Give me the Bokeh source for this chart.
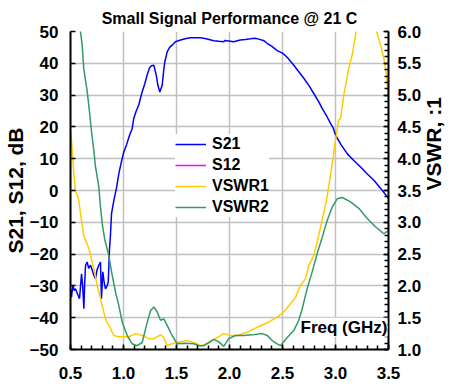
import math
from bokeh.plotting import figure
from bokeh.models import (Range1d, LinearAxis, SingleIntervalTicker, NumeralTickFormatter,
                          Label, Legend, LegendItem, Grid)
from bokeh.embed import file_html
from bokeh.resources import INLINE

# ---------------- data ----------------
freq_s21 = [0.50, 0.509, 0.522, 0.535, 0.547, 0.56, 0.572, 0.585, 0.595, 0.604, 0.615, 0.626,
            0.634, 0.642, 0.657, 0.672, 0.689, 0.705, 0.72, 0.736, 0.75, 0.767, 0.783, 0.792,
            0.805, 0.818, 0.83, 0.845, 0.856, 0.868, 0.877, 0.887, 0.909, 0.935, 0.956, 0.98,
            1.003, 1.03, 1.057, 1.082, 1.097, 1.12, 1.144, 1.16, 1.176, 1.2, 1.223, 1.245,
            1.264, 1.286, 1.309, 1.325, 1.343, 1.365, 1.38, 1.39, 1.412, 1.435, 1.459, 1.49,
            1.538, 1.58, 1.632, 1.68, 1.726, 1.78, 1.852, 1.9, 1.946, 1.96, 2.04, 2.1, 2.15,
            2.198, 2.24, 2.276, 2.32, 2.355, 2.4, 2.45, 2.5, 2.544, 2.607, 2.65, 2.701, 2.75,
            2.795, 2.84, 2.874, 2.92, 2.953, 2.98, 3.0, 3.05, 3.11, 3.17, 3.236, 3.3, 3.362,
            3.43, 3.5]
s21 = [-31, -33.6, -29.8, -31.5, -30.9, -32, -33, -34, -30, -26.2, -30, -37.2,
       -29, -23.5, -22.5, -24.5, -23.5, -25, -26.7, -27.7, -25, -23.5, -22.5, -34,
       -25.6, -29, -30.9, -30, -28.8, -18.3, -14, -7.3, -3.1, 1, 5.3, 9,
       12.1, 14.5, 17.4, 19.5, 22.7, 25, 26.9, 29, 31, 33.5, 36.3, 38.5,
       39.2, 39.4, 36.3, 33, 31.0, 33.1, 38, 40.5, 43.6, 45, 45.7, 46.8,
       47.3, 47.7, 48.0, 48.0, 48.0, 47.7, 47.1, 46.9, 46.8, 47.2, 46.8, 47.3, 47.5,
       47.7, 47.9, 47.6, 47.2, 46.3, 45.3, 44, 43.2, 41.9, 39.4, 37.5, 35.3, 33,
       30.5, 28, 25.8, 23.2, 21.1, 19.5, 17.5, 14.5, 11.6, 9.5, 7.4, 5.2, 3.2,
       0.5, -2.5]

freq_s12 = [0.5, 1.0, 1.5, 2.0, 2.5, 3.0, 3.5]
s12 = [-62, -60, -58, -59, -61, -63, -64]

freq_v1 = [0.50, 0.509, 0.516, 0.531, 0.547, 0.578, 0.594, 0.625, 0.673, 0.72, 0.752, 0.783,
           0.83, 0.877, 0.908, 0.956, 1.05, 1.113, 1.176, 1.239, 1.286, 1.349, 1.38, 1.412,
           1.459, 1.507, 1.601, 1.663, 1.726, 1.79, 1.868, 1.946, 2.009, 2.073, 2.167, 2.261,
           2.356, 2.45, 2.512, 2.575, 2.623, 2.67, 2.717, 2.748, 2.795, 2.827, 2.874, 2.921,
           2.969, 3.0, 3.03, 3.047, 3.078, 3.125, 3.157, 3.189, 3.22, 3.3, 3.36, 3.387,
           3.425, 3.456, 3.481, 3.5]
vswr1 = [4.45, 4.29, 4.13, 3.77, 3.50, 3.35, 3.14, 2.79, 2.59, 2.27, 2.01, 1.80,
         1.48, 1.33, 1.22, 1.20, 1.20, 1.25, 1.22, 1.17, 1.17, 1.23, 1.19, 1.06,
         1.09, 1.11, 1.14, 1.11, 1.06, 1.09, 1.17, 1.25, 1.22, 1.22, 1.27, 1.35,
         1.42, 1.51, 1.59, 1.72, 1.82, 2.01, 2.11, 2.32, 2.48, 2.69, 3.03, 3.40,
         3.92, 4.29, 4.61, 4.63, 5.0, 5.42, 5.63, 5.94, 6.3, 6.5, 6.3, 6.0,
         5.79, 5.58, 5.31, 4.9]

freq_v2 = [0.50, 0.55, 0.594, 0.61, 0.625, 0.658, 0.679, 0.698, 0.72, 0.736, 0.767, 0.783,
           0.799, 0.824, 0.861, 0.893, 0.925, 0.956, 0.988, 1.035, 1.082, 1.129, 1.176, 1.224,
           1.255, 1.286, 1.318, 1.349, 1.38, 1.412, 1.459, 1.507, 1.585, 1.663, 1.71, 1.758,
           1.805, 1.852, 1.899, 1.946, 1.993, 2.057, 2.135, 2.214, 2.308, 2.356, 2.403, 2.45,
           2.481, 2.544, 2.607, 2.654, 2.686, 2.733, 2.78, 2.827, 2.874, 2.922, 2.969, 3.016,
           3.063, 3.142, 3.22, 3.299, 3.377, 3.456, 3.5]
vswr2 = [7.3, 6.7, 6.0, 5.79, 5.42, 5.05, 4.74, 4.43, 4.13, 3.87, 3.56, 3.24,
         2.98, 2.72, 2.48, 2.17, 1.90, 1.69, 1.43, 1.22, 1.09, 1.06, 1.11, 1.43,
         1.61, 1.67, 1.59, 1.46, 1.48, 1.38, 1.22, 1.09, 1.10, 1.09, 1.06, 1.06,
         1.11, 1.16, 1.12, 1.05, 1.17, 1.22, 1.22, 1.23, 1.25, 1.22, 1.14, 1.09,
         1.06, 1.19, 1.30, 1.46, 1.64, 1.96, 2.22, 2.51, 2.76, 3.03, 3.24, 3.37,
         3.39, 3.32, 3.22, 3.06, 2.93, 2.82, 2.87]

title_text = "Small Signal Performance @ 21 C"
left_label = "S21, S12, dB"
right_label = "VSWR, :1"
x_label = "Freq (GHz)"
series_names = ["S21", "S12", "VSWR1", "VSWR2"]
series_colors = ["#0000FF", "#FF00FF", "#FFCC00", "#339966"]

FONT = "Liberation Sans"

# ---------------- figure ----------------
p = figure(width=463, height=388, x_range=Range1d(0.5, 3.5), y_range=Range1d(-50, 50),
           output_backend="svg", toolbar_location=None,
           min_border_left=70, min_border_right=75, min_border_top=31, min_border_bottom=39,
           x_axis_location=None, y_axis_location=None)
p.extra_y_ranges = {"vswr": Range1d(1, 6)}
p.outline_line_color = None
p.background_fill_color = "white"
p.border_fill_color = "white"

p.title.text = title_text
p.title.align = "center"
p.title.text_font = FONT
p.title.text_font_size = "16px"
p.title.text_font_style = "bold"
p.title.text_color = "black"

def style_axis(ax, minor=True):
    ax.axis_line_color = "black"
    ax.axis_line_width = 2
    ax.major_tick_in = 5
    ax.major_tick_out = 0
    ax.major_tick_line_color = "black"
    ax.major_tick_line_width = 1.5
    if minor:
        ax.minor_tick_in = 4
        ax.minor_tick_out = 0
        ax.minor_tick_line_color = "black"
        ax.minor_tick_line_width = 1.5
    else:
        ax.minor_tick_line_color = None
    ax.major_label_text_font = FONT
    ax.major_label_text_font_size = "17px"
    ax.major_label_text_font_style = "bold"
    ax.major_label_text_color = "black"
    ax.axis_label_text_font = FONT
    ax.axis_label_text_font_size = "21px"
    ax.axis_label_text_font_style = "bold"
    ax.axis_label_text_color = "black"

xaxis = LinearAxis(ticker=SingleIntervalTicker(interval=0.5, num_minor_ticks=5),
                   formatter=NumeralTickFormatter(format="0.0"))
style_axis(xaxis)
xaxis.major_label_standoff = 17
p.add_layout(xaxis, "below")

yaxis = LinearAxis(ticker=SingleIntervalTicker(interval=10, num_minor_ticks=0),
                   axis_label=left_label)
style_axis(yaxis, minor=False)
yaxis.major_label_standoff = 12
yaxis.axis_label_standoff = 0
p.add_layout(yaxis, "left")

raxis = LinearAxis(y_range_name="vswr",
                   ticker=SingleIntervalTicker(interval=0.5, num_minor_ticks=5),
                   formatter=NumeralTickFormatter(format="0.0"), axis_label=right_label)
style_axis(raxis)
raxis.major_label_standoff = 9
raxis.axis_label_standoff = 9
try:
    raxis.axis_label_orientation = math.pi / 2
except Exception:
    pass
p.add_layout(raxis, "right")

p.add_layout(Grid(dimension=0, ticker=xaxis.ticker, grid_line_color="#C0C0C0", grid_line_width=1.5))
p.add_layout(Grid(dimension=1, ticker=yaxis.ticker, grid_line_color="#C0C0C0", grid_line_width=1.5))

r21 = p.line(freq_s21, s21, line_color=series_colors[0], line_width=1.5)
r12 = p.line(freq_s12, s12, line_color=series_colors[1], line_width=1.5)
rv1 = p.line(freq_v1, vswr1, line_color=series_colors[2], line_width=1.5, y_range_name="vswr")
rv2 = p.line(freq_v2, vswr2, line_color=series_colors[3], line_width=1.5, y_range_name="vswr")

legend = Legend(items=[LegendItem(label=n, renderers=[r]) for n, r in
                       zip(series_names, [r21, r12, rv1, rv2])],
                location=(105, 132))
legend.margin = 0
legend.padding = 5
legend.spacing = 1
legend.label_height = 20
legend.glyph_height = 20
legend.glyph_width = 31
legend.label_standoff = 6
legend.label_text_font = FONT
legend.label_text_font_size = "16px"
legend.label_text_font_style = "bold"
legend.label_text_color = "black"
legend.background_fill_color = "white"
legend.background_fill_alpha = 1
legend.border_line_color = None
p.add_layout(legend, "center")

freq_lbl = Label(x=3.49, y=-43, text=x_label, text_align="right", text_baseline="middle",
                 text_font=FONT, text_font_size="17px", text_font_style="bold",
                 text_color="black", background_fill_color="white")
p.add_layout(freq_lbl)

open("out.html", "w").write(file_html(p, INLINE))
